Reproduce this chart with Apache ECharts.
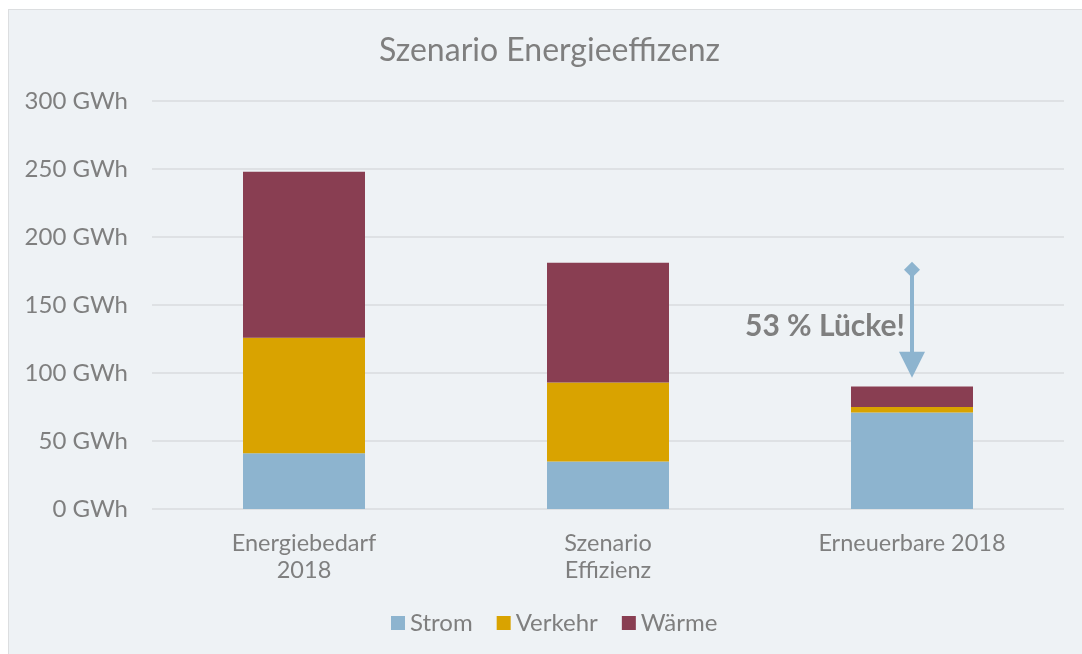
<html>

<head>
    <meta charset="utf-8" />
    <script src="https://cdn.jsdelivr.net/npm/echarts@6/dist/echarts.min.js"></script>
    <title>Szenario Energieeffizenz</title>
    <style>
        body { margin: 0; background: #ffffff; overflow: hidden; }
        #panel { position: absolute; left: 8px; top: 9px; width: 1090px; height: 660px; background: #EEF2F5; border: 1px solid #DCDEE0; }
        #chart { position: absolute; left: 0; top: 0; width: 1082px; height: 654px; }
    </style>
</head>

<body>
    <div id="panel"></div>
    <div id="chart"></div>

    <script type="text/javascript">
        // Werte (GWh)
        var categories = ['Energiebedarf\n2018', 'Szenario\nEffizienz', 'Erneuerbare 2018'];
        var strom = [41, 35, 71];
        var verkehr = [85, 58, 4];
        var waerme = [122, 88, 15];
        var yTicks = [0, 50, 100, 150, 200, 250, 300];
        // Pfeil "Lücke": von / bis (GWh) an der dritten Säule
        var gapFrom = 176;
        var gapTo = 106;
        var gapLabelAt = 134;

        var grey = '#7F7F7F';
        var font = 'Lato';

        var chart = echarts.init(document.getElementById('chart'));
        var option = {
            backgroundColor: 'transparent',
            textStyle: { fontFamily: font },
            title: {
                text: 'Szenario Energieeffizenz',
                left: 374,
                top: 30,
                textStyle: { color: grey, fontSize: 32, fontWeight: 'normal', fontFamily: font }
            },
            legend: {
                bottom: 14,
                left: 386,
                itemWidth: 14,
                itemHeight: 14,
                itemGap: 24,
                icon: 'rect',
                textStyle: { color: grey, fontSize: 24, fontFamily: font }
            },
            grid: { left: 152, right: 18, top: 101, bottom: 145 },
            xAxis: {
                type: 'category',
                data: categories,
                axisLine: { show: false },
                axisTick: { show: false },
                axisLabel: { color: grey, fontSize: 23.5, lineHeight: 27, margin: 21, fontFamily: font }
            },
            yAxis: {
                type: 'value',
                min: yTicks[0],
                max: yTicks[yTicks.length - 1],
                interval: 50,
                axisLine: { show: false },
                axisTick: { show: false },
                splitLine: { lineStyle: { color: '#DEE1E4', width: 2 } },
                axisLabel: {
                    color: grey, fontSize: 24, margin: 24, fontFamily: font,
                    formatter: function (v) { return v + ' GWh'; }
                }
            },
            series: [{
                name: 'Strom',
                type: 'bar',
                stack: 'e',
                barWidth: 122,
                itemStyle: { color: '#8DB4CF' },
                data: strom,
                markLine: {
                    silent: true,
                    lineStyle: { color: '#8DB4CF', width: 4, type: 'solid' },
                    label: { show: false },
                    data: [[
                        { coord: [2, gapFrom], symbol: 'diamond', symbolSize: 16 },
                        { coord: [2, gapTo], symbol: 'triangle', symbolSize: 26 }
                    ]]
                },
                markPoint: {
                    silent: true,
                    symbol: 'circle',
                    symbolSize: 0,
                    data: [{ coord: [2, gapLabelAt] }],
                    label: {
                        show: true,
                        position: 'left',
                        distance: 7,
                        formatter: '53 % Lücke!',
                        color: grey,
                        fontSize: 30,
                        fontWeight: 'bold',
                        fontFamily: font
                    }
                }
            }, {
                name: 'Verkehr',
                type: 'bar',
                stack: 'e',
                itemStyle: { color: '#D9A300' },
                data: verkehr
            }, {
                name: 'Wärme',
                type: 'bar',
                stack: 'e',
                itemStyle: { color: '#893E52' },
                data: waerme
            }]
        };
        chart.setOption(option);
        window.onresize = chart.resize;
    </script>

</body>

</html>
